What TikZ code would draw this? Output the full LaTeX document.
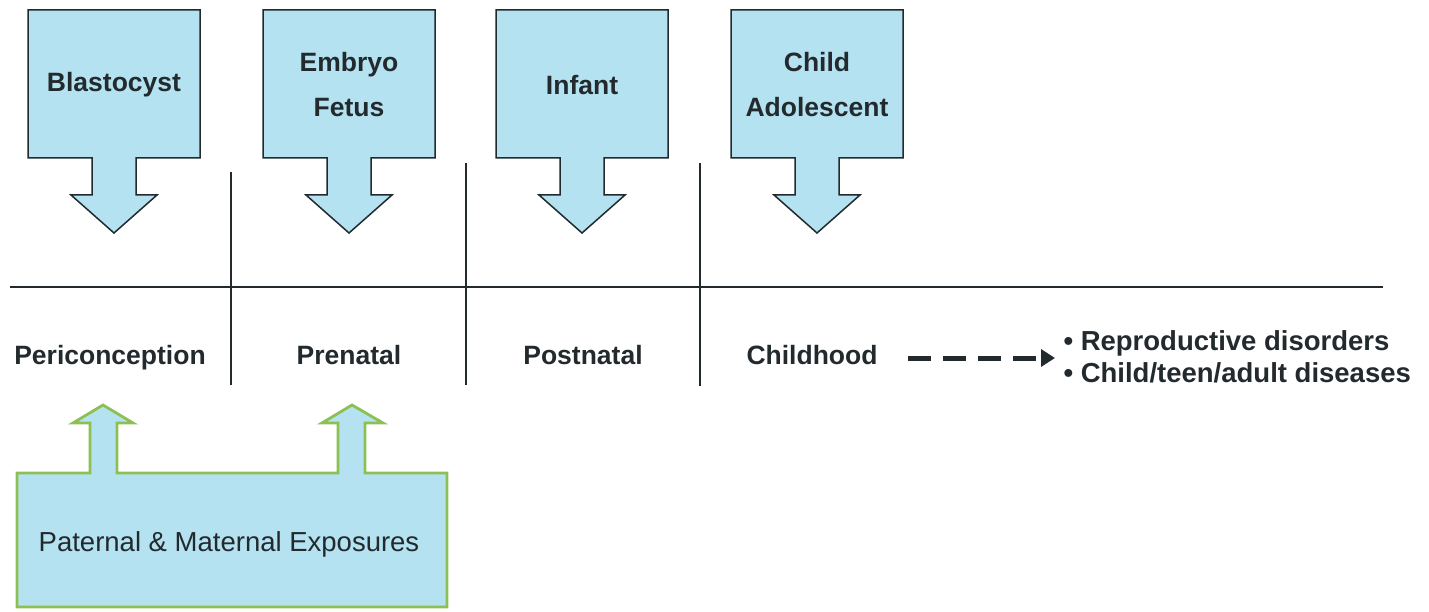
\documentclass[tikz,border=0pt]{standalone}
\usepackage{fontspec}
\setmainfont{Liberation Sans}
\usetikzlibrary{arrows.meta, positioning}

\definecolor{stageblue}{HTML}{B4E2F0}
\definecolor{expgreen}{HTML}{8DC052}
\definecolor{inkgrey}{HTML}{222A2E}

% box with a down arrow: centre x, name, text
\newcommand{\stagearrow}[3]{%
    \draw[stagebox] ({#1-86},10) -- ({#1+86},10) -- ({#1+86},158) -- ({#1+22},158)
        -- ({#1+22},195) -- ({#1+43},195) -- (#1,233) -- ({#1-43},195)
        -- ({#1-22},195) -- ({#1-22},158) -- ({#1-86},158) -- cycle;
    \node[stagetext] (#2) at (#1,85) {#3};
}

\begin{document}
\begin{tikzpicture}[
        x=1pt, y=-1pt,
        stagebox/.style={draw=inkgrey, fill=stageblue, line width=1.5pt, line join=miter},
        stagetext/.style={align=center, font=\bfseries\fontsize{26.5}{45}\selectfont, text=inkgrey},
        period/.style={font=\bfseries\fontsize{26.5}{31}\selectfont, text=inkgrey,
                       text height=19pt, text depth=6pt},
        sep/.style={draw=inkgrey, line width=1.3pt},
        timeline/.style={draw=inkgrey, line width=2.8pt}
    ]
    \useasboundingbox (0,0) rectangle (1429,612);

    % stages
    \stagearrow{114}{blast}{Blastocyst}
    \stagearrow{349}{embryo}{Embryo\\Fetus}
    \stagearrow{582}{infant}{Infant}
    \stagearrow{817}{child}{Child\\Adolescent}

    % time line and separators
    \coordinate (tl0) at (10,287);
    \coordinate (tl1) at (1383,287);
    \draw[timeline] (tl0) -- (tl1);
    \coordinate (s1t) at (231,172);
    \coordinate (s1b) at (231,385);
    \coordinate (s2t) at (466,163);
    \coordinate (s2b) at (466,385);
    \coordinate (s3t) at (700,163);
    \coordinate (s3b) at (700,386);
    \draw[sep] (s1t) -- (s1b);
    \draw[sep] (s2t) -- (s2b);
    \draw[sep] (s3t) -- (s3b);

    % periods
    \node[period] (peri) at (110,358) {Periconception};
    \node[period] (pre) at (349,358) {Prenatal};
    \node[period] (post) at (583,358) {Postnatal};
    \node[period] (childhood) at (812,358) {Childhood};
    \node[anchor=west, align=left, text=inkgrey, font=\bfseries\fontsize{27.5}{32}\selectfont]
        (outcome) at (1060,357) {• Reproductive disorders\\• Child/teen/adult diseases};
    \draw[inkgrey, line width=5pt, dash pattern=on 23pt off 12pt, shorten <=27pt, shorten >=5pt,
          -{Triangle[length=14pt, width=17pt]}] (childhood.east) -- (outcome.west |- childhood.east);

    % exposures
    \draw[draw=expgreen, fill=stageblue, line width=2.8pt, line join=miter]
        (17,473) -- (90,473) -- (90,423) -- (73,423) -- (103,405) -- (133,423) -- (117,423)
        -- (117,473) -- (338,473) -- (338,423) -- (322,423) -- (352,405) -- (383,423)
        -- (365,423) -- (365,473) -- (447,473) -- (447,607) -- (17,607) -- cycle;
    \node[font=\fontsize{27.5}{31}\selectfont, text=inkgrey] (expo) at (229,544) {Paternal \& Maternal Exposures};
\end{tikzpicture}
\end{document}
